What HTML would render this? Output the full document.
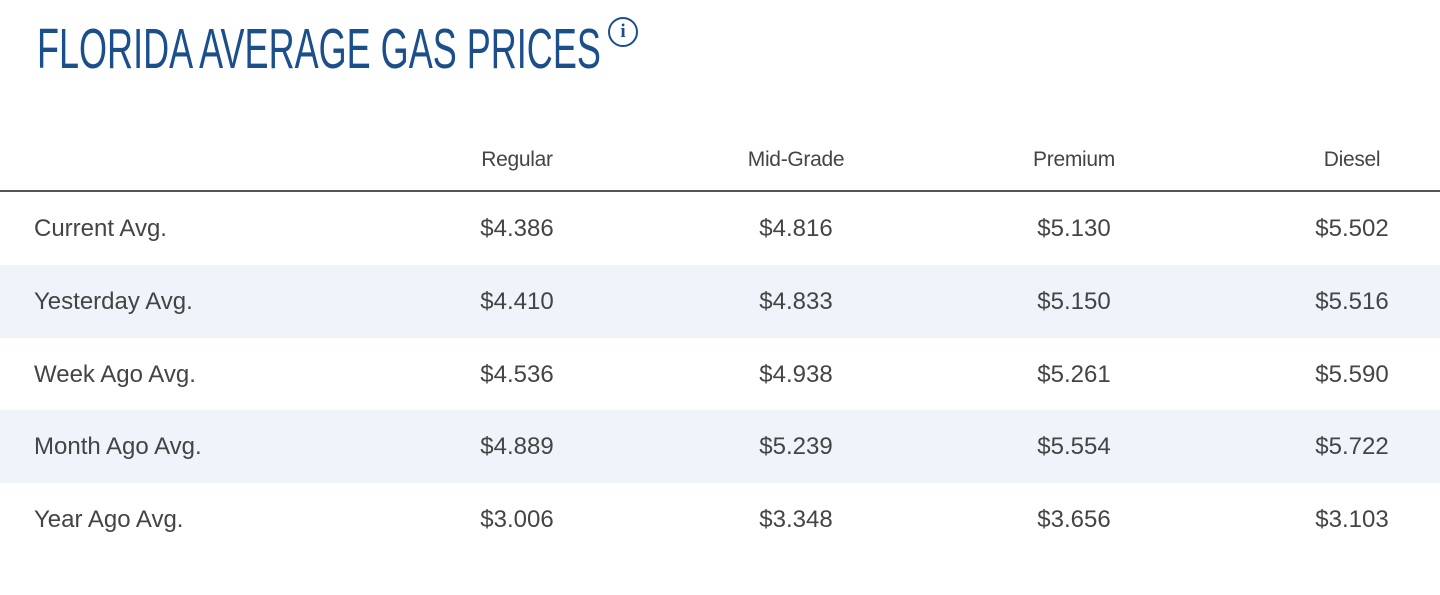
<!DOCTYPE html>
<html><head><meta charset="utf-8"><style>
body{margin:0;width:1440px;height:595px;background:#fff;position:relative;overflow:hidden;font-family:"Liberation Sans",sans-serif;}
.title{position:absolute;left:37px;top:16px;font-size:57px;line-height:66px;color:#1b4f8c;white-space:nowrap;transform:scaleX(0.632);transform-origin:left top;}
.info{position:absolute;left:608px;top:17px;width:30px;height:30px;border:2.5px solid #1b4f8c;border-radius:50%;box-sizing:border-box;color:#1b4f8c;font:bold 19px "Liberation Serif",serif;text-align:center;line-height:25px;}
.hdr{position:absolute;top:148px;font-size:21px;color:#444;letter-spacing:-0.3px;transform:translateX(-50%);}
.line{position:absolute;left:0;top:190px;width:1440px;height:1.5px;background:#555;}
.row{position:absolute;left:0;width:1440px;height:73px;}
.shade{background:#eef4fa;}
.lab{position:absolute;left:34px;font-size:24px;color:#444;top:23px;}
.v{position:absolute;font-size:24px;color:#444;top:23px;transform:translateX(-50%);}
</style></head><body>
<div class="title">FLORIDA AVERAGE GAS PRICES</div>
<div class="info">i</div>
<div class="hdr" style="left:517px">Regular</div>
<div class="hdr" style="left:796px">Mid-Grade</div>
<div class="hdr" style="left:1074px">Premium</div>
<div class="hdr" style="left:1352px">Diesel</div>
<div class="line"></div>
<div class="row" style="top:192px"><span class="lab">Current Avg.</span><span class="v" style="left:517px">$4.386</span><span class="v" style="left:796px">$4.816</span><span class="v" style="left:1074px">$5.130</span><span class="v" style="left:1352px">$5.502</span></div>
<div class="row shade" style="top:265px"><span class="lab">Yesterday Avg.</span><span class="v" style="left:517px">$4.410</span><span class="v" style="left:796px">$4.833</span><span class="v" style="left:1074px">$5.150</span><span class="v" style="left:1352px">$5.516</span></div>
<div class="row" style="top:338px"><span class="lab">Week Ago Avg.</span><span class="v" style="left:517px">$4.536</span><span class="v" style="left:796px">$4.938</span><span class="v" style="left:1074px">$5.261</span><span class="v" style="left:1352px">$5.590</span></div>
<div class="row shade" style="top:410px"><span class="lab">Month Ago Avg.</span><span class="v" style="left:517px">$4.889</span><span class="v" style="left:796px">$5.239</span><span class="v" style="left:1074px">$5.554</span><span class="v" style="left:1352px">$5.722</span></div>
<div class="row" style="top:483px"><span class="lab">Year Ago Avg.</span><span class="v" style="left:517px">$3.006</span><span class="v" style="left:796px">$3.348</span><span class="v" style="left:1074px">$3.656</span><span class="v" style="left:1352px">$3.103</span></div>
</body></html>
